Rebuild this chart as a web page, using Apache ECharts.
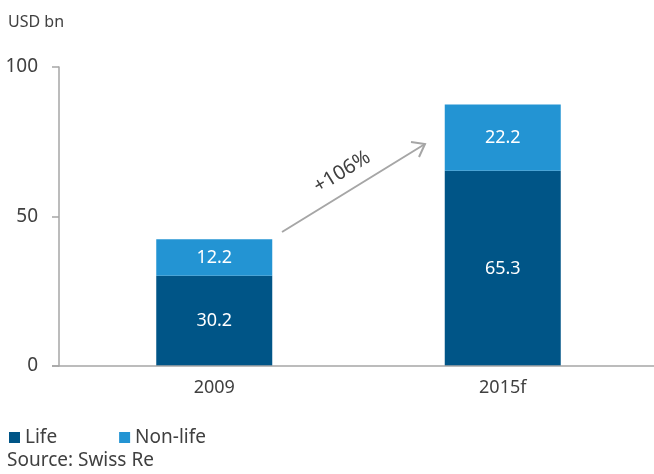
<!DOCTYPE html>
<html>
<head>
<meta charset="utf-8">
<script src="https://cdn.jsdelivr.net/npm/echarts@6/dist/echarts.min.js"></script>
<style>
  html, body { margin: 0; padding: 0; background: #fff; }
  #chart { width: 654px; height: 474px; }
</style>
</head>
<body>
<div id="chart"></div>
<script>
const categories = ['2009', '2015f'];
const lifeValues = [30.2, 65.3];
const nonLifeValues = [12.2, 22.2];
const yTicks = [0, 50, 100];
const growthLabel = '+106%';

const FONT = '"Noto Sans", "DejaVu Sans", sans-serif';
const TEXT = '#404040';
const AXIS = '#a6a6a6';

const chart = echarts.init(document.getElementById('chart'));

const option = {
  animation: false,
  textStyle: { fontFamily: FONT },
  grid: { left: 70, right: 7, top: 67, bottom: 108 },
  legend: {
    left: 4, bottom: 22,
    icon: 'rect', itemWidth: 11, itemHeight: 11, itemGap: 62,
    textStyle: { fontFamily: FONT, fontSize: 19, color: TEXT },
    data: ['Life', 'Non-life']
  },
  xAxis: {
    type: 'category',
    data: categories,
    axisLine: { show: false },
    axisTick: { show: false },
    axisLabel: { fontFamily: FONT, fontSize: 18, color: TEXT, margin: 13 }
  },
  yAxis: {
    type: 'value',
    min: yTicks[0], max: yTicks[yTicks.length - 1], interval: 50,
    offset: 11,
    name: 'USD bn',
    nameLocation: 'end',
    nameTextStyle: { fontFamily: FONT, fontSize: 16, color: TEXT, align: 'left', padding: [0, 0, 22, -51] },
    axisLine: { show: true, lineStyle: { color: AXIS, width: 1.5 } },
    axisTick: { show: true, length: 7, lineStyle: { color: AXIS, width: 1.5 } },
    axisLabel: { fontFamily: FONT, fontSize: 19, color: TEXT, margin: 21 },
    splitLine: { show: false }
  },
  series: [
    {
      name: 'Life', type: 'bar', stack: 'total', barWidth: 116,
      data: lifeValues,
      itemStyle: { color: '#005587' },
      label: { show: true, position: 'inside', color: '#fff', fontFamily: FONT, fontSize: 18 }
    },
    {
      name: 'Non-life', type: 'bar', stack: 'total', barWidth: 116,
      data: nonLifeValues,
      itemStyle: { color: '#2394d3' },
      label: { show: true, position: 'inside', color: '#fff', fontFamily: FONT, fontSize: 18 }
    }
  ]
};
chart.setOption(option);

// baseline across the full width, anchored to the zero value
const zeroY = chart.convertToPixel({ yAxisIndex: 0 }, 0);
chart.setOption({
  graphic: [
    { type: 'line', z: 10, shape: { x1: 52, y1: zeroY, x2: 654, y2: zeroY }, style: { stroke: AXIS, lineWidth: 1.5 } },
    // growth arrow
    { type: 'line', z: 10, shape: { x1: 282, y1: 232, x2: 425, y2: 144 }, style: { stroke: AXIS, lineWidth: 2 } },
    { type: 'polyline', z: 10, shape: { points: [[411, 142], [425, 144], [419, 157]] }, style: { stroke: AXIS, lineWidth: 2, fill: null } },
    {
      type: 'text', z: 10, x: 342, y: 172, rotation: 31.5 * Math.PI / 180,
      style: { text: growthLabel, font: '20px ' + FONT, fill: TEXT, align: 'center', verticalAlign: 'middle' }
    },
    {
      type: 'text', left: 7, top: 451,
      style: { text: 'Source: Swiss Re', font: '19px ' + FONT, fill: TEXT }
    }
  ]
});
</script>
</body>
</html>
